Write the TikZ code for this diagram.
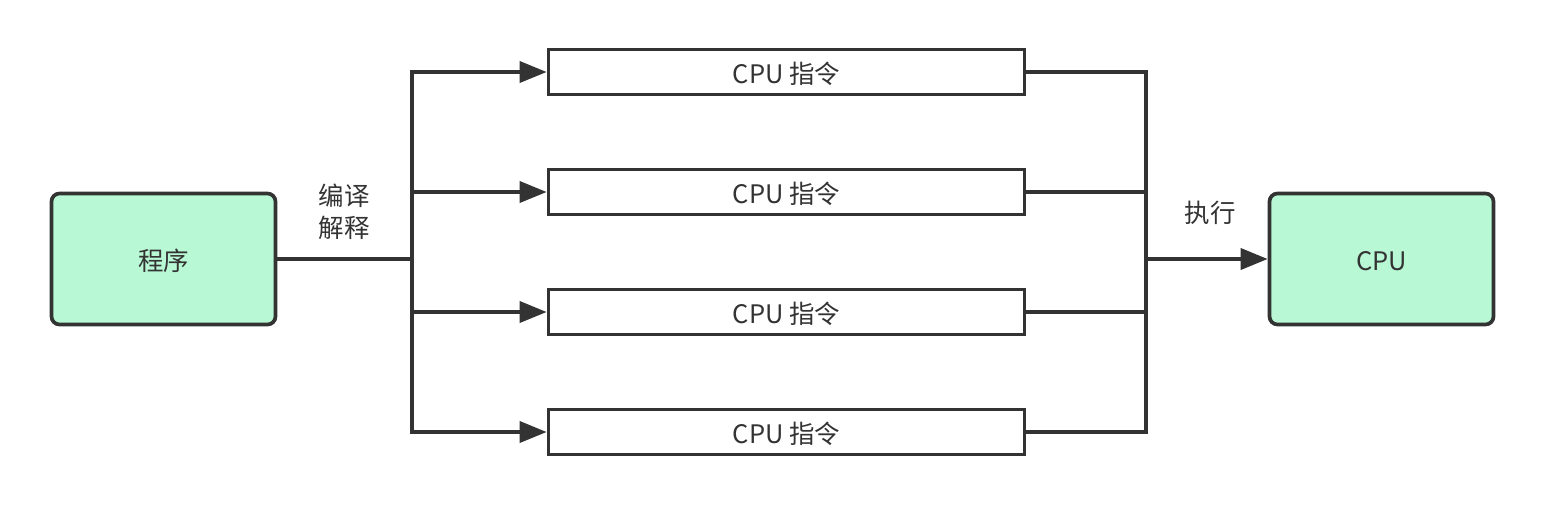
\documentclass[tikz,border=0pt]{standalone}
\usepackage{fontspec}
\setmainfont{Noto Sans CJK SC}
\usetikzlibrary{arrows.meta}
\usetikzlibrary{positioning}
\definecolor{boxline}{HTML}{333333}
\definecolor{boxfill}{HTML}{B8F8D4}
\tikzset{line/.style = {draw = boxline, line width = 2.1pt}}
\tikzset{arr/.style = {line, -{Triangle[length = 0.54cm, width = 0.42cm]}}}
\tikzset{blk/.style = {line, fill = boxfill, rounded corners = 0.16cm,
                       minimum width = 4.48cm, minimum height = 2.62cm}}
\tikzset{ins/.style = {line, fill = white,
                       minimum width = 9.52cm, minimum height = 0.86cm}}
\tikzset{lbl/.style = {text = boxline, font = \fontsize{14.5}{18}\selectfont}}
\tikzset{low/.style = {text height = 0.57cm, text depth = 0.1cm}}

\begin{document}
\begin{tikzpicture}
    \useasboundingbox (0, 0) rectangle (30.92, -10.12);
    \node [blk, lbl, low] (prog) at (3.27, -5.18) {程序};
    \node [blk, lbl, low] (cpu) at (27.63, -5.18) {CPU};
    \foreach \i/\y in {1/-1.44, 2/-3.84, 3/-6.24, 4/-8.64}
      \node [ins, lbl, low] (ins\i) at (15.73, \y) {CPU 指令};

    \coordinate (split) at (8.24, -5.18);
    \coordinate (join) at (22.92, -5.18);
    \draw [line] (prog) -- (split);
    \draw [line, line cap = rect] (split |- ins1) -- (split |- ins4);
    \draw [line, line cap = rect] (join |- ins1) -- (join |- ins4);
    \foreach \i in {1, ..., 4} {
      \draw [arr] (split |- ins\i) -- (ins\i.west);
      \draw [line] (ins\i.east) -- (join |- ins\i);
    }
    \draw [arr] (join) -- (cpu.west);

    \node [lbl, align = center] (compile) at (6.88, -4.24) {编译\\解释};
    \node [lbl] (exec) at (24.2, -4.26) {执行};
  \end{tikzpicture}
\end{document}
